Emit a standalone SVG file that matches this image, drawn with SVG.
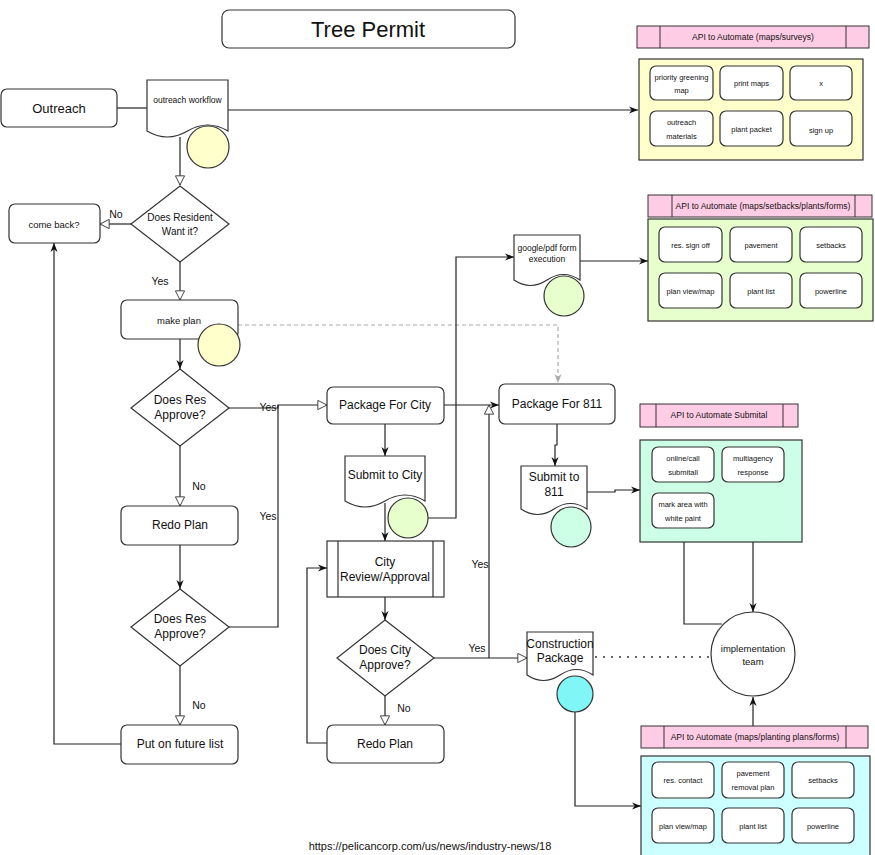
<svg xmlns="http://www.w3.org/2000/svg" width="875" height="855" viewBox="0 0 875 855">
<defs>
<style>
text{font-family:"Liberation Sans",Arial,sans-serif;fill:#111;text-anchor:middle;dominant-baseline:central}
.box{fill:#fff;stroke:#333;stroke-width:1.2}
.item{fill:#fff;stroke:#333;stroke-width:1.2}
.hdr{fill:#ffcce6;stroke:#333;stroke-width:1}
.edge{fill:none;stroke:#222;stroke-width:1.2}
.lbl{font-size:10.5px}
.m{font-size:12px}
.s{font-size:8.5px}
.t{font-size:7.5px}
</style>
<marker id="af" viewBox="0 0 10 10" refX="10" refY="5" markerWidth="9" markerHeight="9" orient="auto" markerUnits="userSpaceOnUse"><path d="M0,1 L10,5 L0,9 L3,5 z" fill="#111"/></marker>
<marker id="ah" viewBox="0 0 12 12" refX="11" refY="6" markerWidth="11" markerHeight="11" orient="auto" markerUnits="userSpaceOnUse"><path d="M1,1 L11,6 L1,11 z" fill="#fff" stroke="#333" stroke-width="1"/></marker>
<marker id="ag" viewBox="0 0 10 10" refX="10" refY="5" markerWidth="9" markerHeight="9" orient="auto" markerUnits="userSpaceOnUse"><path d="M0,1 L10,5 L0,9 L3,5 z" fill="#aaa"/></marker>
</defs>
<rect width="875" height="855" fill="#fff"/>

<g id="connectors">
<path class="edge" d="M117,108 H147"/>
<path class="edge" d="M228,110 H638" marker-end="url(#af)"/>
<path class="edge" d="M180,137 V185" marker-end="url(#ah)"/>
<path class="edge" d="M131,224 H100" marker-end="url(#ah)"/>
<path class="edge" d="M180,262 V300" marker-end="url(#ah)"/>
<path d="M238,325 H558 V383" fill="none" stroke="#aaa" stroke-width="1.2" stroke-dasharray="4,3" marker-end="url(#ag)"/>
<path class="edge" d="M180,339 V369" marker-end="url(#af)"/>
<path class="edge" d="M229,408 H278 V405 H327" marker-end="url(#ah)"/>
<path class="edge" d="M180,446 V506" marker-end="url(#ah)"/>
<path class="edge" d="M180,545 V589" marker-end="url(#af)"/>
<path class="edge" d="M229,627 H278 V405"/>
<path class="edge" d="M180,666 V725" marker-end="url(#ah)"/>
<path class="edge" d="M121,744 H54 V243" marker-end="url(#af)"/>
<path class="edge" d="M385,424 V456" marker-end="url(#af)"/>
<path class="edge" d="M444,405 H499" marker-end="url(#af)"/>
<path class="edge" d="M428,518 H456 V257 H514" marker-end="url(#af)"/>
<path class="edge" d="M580,261 H648" marker-end="url(#af)"/>
<path class="edge" d="M557,424 V445 H555 V466" marker-end="url(#af)"/>
<path class="edge" d="M587,492 H615 V490 H640" marker-end="url(#af)"/>
<path class="edge" d="M385,503 V541" marker-end="url(#af)"/>
<path class="edge" d="M385,597 V620" marker-end="url(#af)"/>
<path class="edge" d="M385,696 V725" marker-end="url(#ah)"/>
<path class="edge" d="M327,743 H307 V568 H327" marker-end="url(#af)"/>
<path class="edge" d="M434,658 H527" marker-end="url(#ah)"/>
<path class="edge" d="M489,658 V405" marker-end="url(#ah)"/>
<path class="edge" d="M575,712 V806 H641" marker-end="url(#af)"/>
<path d="M596,657 H711" fill="none" stroke="#333" stroke-width="2" stroke-linecap="round" stroke-dasharray="0,8"/>
<path class="edge" d="M753,482 V612" marker-end="url(#af)"/>
<path class="edge" d="M722,624 H684 V528" marker-end="url(#af)"/>
<path class="edge" d="M753,726 V697" marker-end="url(#af)"/>
<text class="lbl" x="116" y="214">No</text>
<text class="lbl" x="160" y="281">Yes</text>
<text class="lbl" x="268" y="407">Yes</text>
<text class="lbl" x="199" y="486">No</text>
<text class="lbl" x="268" y="516">Yes</text>
<text class="lbl" x="199" y="705">No</text>
<text class="lbl" x="480" y="564">Yes</text>
<text class="lbl" x="477" y="648">Yes</text>
<text class="lbl" x="404" y="708">No</text>
</g>

<g id="title"><rect class="box" x="222" y="10" width="293" height="38" rx="7"/><text x="368" y="29" style="font-size:22px">Tree Permit</text></g>

<g id="outreach"><rect class="box" x="1" y="89" width="116" height="38" rx="6"/><text x="59" y="108" style="font-size:13px">Outreach</text></g>

<g id="outreach-workflow">
<path class="box" d="M147,80 H228 V131 Q207.75,119 187.5,131 Q167.25,143 147,131 Z"/>
<text class="s" x="187.5" y="100">outreach workflow</text>
<circle cx="208" cy="147" r="21" fill="#ffffcc" stroke="#333" stroke-width="1.2"/>
</g>

<g id="does-resident"><path class="box" d="M180,186 L229,224 L180,262 L131,224 Z"/><text class="s" style="font-size:10px" x="180" y="217">Does Resident</text><text class="s" style="font-size:10px" x="180" y="231">Want it?</text></g>

<g id="come-back"><rect class="box" x="9" y="204" width="91" height="39" rx="6"/><text class="s" style="font-size:9.5px" x="54" y="224">come back?</text></g>

<g id="make-plan"><rect class="box" x="121" y="300" width="117" height="39" rx="6"/><text class="s" style="font-size:9.5px" x="179" y="320">make plan</text>
<circle cx="219" cy="345" r="21" fill="#ffffcc" stroke="#333" stroke-width="1.2"/></g>

<g id="res-approve-1"><path class="box" d="M180,369 L229,408 L180,446 L131,408 Z"/><text class="m" x="180" y="400">Does Res</text><text class="m" x="180" y="415">Approve?</text></g>

<g id="redo-plan-1"><rect class="box" x="121" y="506" width="117" height="39" rx="6"/><text class="m" x="180" y="525">Redo Plan</text></g>

<g id="res-approve-2"><path class="box" d="M180,589 L229,627 L180,666 L131,627 Z"/><text class="m" x="180" y="619">Does Res</text><text class="m" x="180" y="634">Approve?</text></g>

<g id="future-list"><rect class="box" x="121" y="725" width="117" height="39" rx="6"/><text class="m" x="180" y="744">Put on future list</text></g>

<g id="package-city"><rect class="box" x="327" y="387" width="117" height="37" rx="6"/><text class="m" x="385" y="405">Package For City</text></g>

<g id="submit-city">
<path class="box" d="M345,456 H425 V501 Q405,489 385,501 Q365,513 345,501 Z"/>
<text class="m" x="385" y="475">Submit to City</text>
<circle cx="408" cy="518" r="20" fill="#e6ffcc" stroke="#333" stroke-width="1.2"/>
</g>

<g id="google-pdf">
<path class="box" d="M514,235 H580 V280 Q563.5,269 547,280 Q530.5,291 514,280 Z"/>
<text class="s" x="547" y="248">google/pdf form</text>
<text class="s" x="547" y="259">execution</text>
<circle cx="564" cy="296" r="20" fill="#e6ffcc" stroke="#333" stroke-width="1.2"/>
</g>

<g id="package-811"><rect class="box" x="499" y="384" width="116" height="40" rx="6"/><text class="m" x="557" y="404">Package For 811</text></g>

<g id="submit-811">
<path class="box" d="M521,466 H587 V509 Q570.5,498 554,509 Q537.5,520 521,509 Z"/>
<text class="m" x="554" y="477">Submit to</text>
<text class="m" x="554" y="492">811</text>
<circle cx="571" cy="527" r="20" fill="#ccffe6" stroke="#333" stroke-width="1.2"/>
</g>

<g id="city-review"><rect class="box" x="327" y="541" width="117" height="56"/><path d="M338,541 V597 M433,541 V597" stroke="#333" stroke-width="1.2"/><text class="m" x="385" y="562">City</text><text class="m" x="385" y="577">Review/Approval</text></g>

<g id="city-approve"><path class="box" d="M385,620 L434,658 L385,696 L337,658 Z"/><text class="m" x="385" y="650">Does City</text><text class="m" x="385" y="665">Approve?</text></g>

<g id="redo-plan-2"><rect class="box" x="327" y="725" width="117" height="38" rx="6"/><text class="m" x="385" y="744">Redo Plan</text></g>

<g id="construction-package">
<path class="box" d="M527,632 H593 V675 Q576.5,664 560,675 Q543.5,686 527,675 Z"/>
<text class="m" x="560" y="644">Construction</text>
<text class="m" x="560" y="658">Package</text>
<circle cx="575" cy="694" r="18" fill="#80f6f6" stroke="#333" stroke-width="1.2"/>
</g>

<g id="implementation-team"><circle cx="753" cy="654" r="42" fill="#fff" stroke="#333" stroke-width="1.2"/><text class="s" style="font-size:9.5px" x="753" y="648">implementation</text><text class="s" style="font-size:9.5px" x="753" y="661">team</text></g>

<g id="api-surveys">
<rect class="hdr" x="637" y="26" width="232" height="22"/><path d="M660,26 V48 M846,26 V48" stroke="#333"/>
<text class="s" x="753" y="37">API to Automate (maps/surveys)</text>
<rect x="639" y="59" width="224" height="101" fill="#ffffcc" stroke="#333" stroke-width="1.2"/>
<rect class="item" x="650" y="66" width="63" height="34" rx="6"/><text class="t" x="681.5" y="77">priority greening</text><text class="t" x="681.5" y="90">map</text>
<rect class="item" x="720" y="66" width="63" height="34" rx="6"/><text class="t" x="751.5" y="83">print maps</text>
<rect class="item" x="790" y="66" width="62" height="34" rx="6"/><text class="t" x="821" y="83">x</text>
<rect class="item" x="650" y="111" width="63" height="35" rx="6"/><text class="t" x="681.5" y="122">outreach</text><text class="t" x="681.5" y="136">materials</text>
<rect class="item" x="720" y="111" width="63" height="35" rx="6"/><text class="t" x="751.5" y="129">plant packet</text>
<rect class="item" x="790" y="111" width="62" height="35" rx="6"/><text class="t" x="821" y="130">sign up</text>
</g>

<g id="api-forms">
<rect class="hdr" x="648" y="195" width="224" height="22"/><path d="M672,195 V217 M855,195 V217" stroke="#333"/>
<text class="s" x="763" y="206">API to Automate (maps/setbacks/plants/forms)</text>
<rect x="648" y="219" width="225" height="102" fill="#e6ffcc" stroke="#333" stroke-width="1.2"/>
<rect class="item" x="659" y="227" width="63" height="35" rx="6"/><text class="t" x="690.5" y="245">res. sign off</text>
<rect class="item" x="730" y="227" width="62" height="35" rx="6"/><text class="t" x="761" y="245">pavement</text>
<rect class="item" x="800" y="227" width="62" height="35" rx="6"/><text class="t" x="831" y="245">setbacks</text>
<rect class="item" x="659" y="273" width="63" height="35" rx="6"/><text class="t" x="690.5" y="291">plan view/map</text>
<rect class="item" x="730" y="273" width="62" height="35" rx="6"/><text class="t" x="761" y="291">plant list</text>
<rect class="item" x="800" y="273" width="62" height="35" rx="6"/><text class="t" x="831" y="291">powerline</text>
</g>

<g id="api-submital">
<rect class="hdr" x="640" y="404" width="158" height="23"/><path d="M656,404 V427 M783,404 V427" stroke="#333"/>
<text class="s" x="719" y="415">API to Automate Submital</text>
<rect x="640" y="440" width="162" height="102" fill="#ccffe6" stroke="#333" stroke-width="1.2"/>
<rect class="item" x="652" y="447" width="62" height="35" rx="6"/><text class="t" x="683" y="458">online/call</text><text class="t" x="683" y="472">submitall</text>
<rect class="item" x="722" y="447" width="62" height="35" rx="6"/><text class="t" x="753" y="458">multiagency</text><text class="t" x="753" y="472">response</text>
<rect class="item" x="652" y="493" width="62" height="35" rx="6"/><text class="t" x="683" y="504">mark area with</text><text class="t" x="683" y="518">white paint</text>
</g>

<g id="api-planting">
<rect class="hdr" x="641" y="726" width="227" height="22"/><path d="M664,726 V748 M846,726 V748" stroke="#333"/>
<text class="s" x="755" y="737">API to Automate (maps/planting plans/forms)</text>
<rect x="641" y="756" width="229" height="110" fill="#ccffff" stroke="#333" stroke-width="1.2"/>
<rect class="item" x="652" y="762" width="62" height="36" rx="6"/><text class="t" x="683" y="780">res. contact</text>
<rect class="item" x="722" y="762" width="62" height="36" rx="6"/><text class="t" x="753" y="773">pavement</text><text class="t" x="753" y="787">removal plan</text>
<rect class="item" x="792" y="762" width="62" height="36" rx="6"/><text class="t" x="823" y="780">setbacks</text>
<rect class="item" x="652" y="808" width="62" height="35" rx="6"/><text class="t" x="683" y="826">plan view/map</text>
<rect class="item" x="722" y="808" width="62" height="35" rx="6"/><text class="t" x="753" y="826">plant list</text>
<rect class="item" x="792" y="808" width="62" height="35" rx="6"/><text class="t" x="823" y="826">powerline</text>
</g>

<text x="430" y="846" style="font-size:11px">https://pelicancorp.com/us/news/industry-news/18</text>
</svg>
